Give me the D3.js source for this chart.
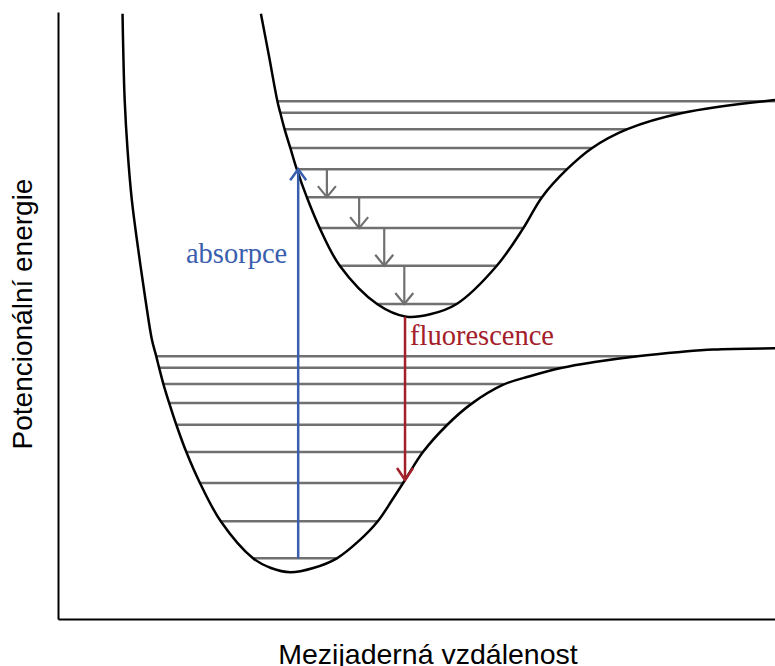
<!DOCTYPE html>
<html>
<head>
<meta charset="utf-8">
<script src="https://cdn.jsdelivr.net/npm/d3@7"></script>
<style>
  html, body { margin: 0; padding: 0; background: #fff; }
  svg { display: block; }
</style>
</head>
<body>
<svg id="chart" width="775" height="666"></svg>
<script>
// Potential energy curves: [internuclear distance r, energy E] in arbitrary units
const groundCurve = [
  [0.90, 9.97], [0.91, 9.37], [0.93, 8.55], [0.97, 7.73], [1.03, 6.90],
  [1.12, 6.08], [1.22, 5.26], [1.31, 4.60], [1.37, 4.33], [1.41, 4.14],
  [1.47, 3.87], [1.55, 3.56], [1.65, 3.20], [1.79, 2.75], [1.98, 2.24],
  [2.27, 1.61], [2.72, 1.00], [2.97, 0.84], [3.24, 0.77], [3.56, 0.84],
  [3.89, 1.00], [4.20, 1.29], [4.46, 1.61], [4.66, 1.96], [4.84, 2.29],
  [5.09, 2.75], [5.43, 3.20], [5.76, 3.54], [6.21, 3.86], [6.58, 4.00],
  [7.03, 4.14], [7.46, 4.23], [8.08, 4.33], [8.68, 4.40], [9.14, 4.44],
  [10.0, 4.46]
];
const excitedCurve = [
  [2.83, 9.97], [2.94, 9.29], [3.06, 8.53], [3.10, 8.34], [3.16, 8.07],
  [3.24, 7.76], [3.33, 7.41], [3.47, 6.95], [3.65, 6.44], [3.93, 5.82],
  [4.45, 5.19], [4.86, 4.98], [5.19, 5.02], [5.56, 5.19], [6.12, 5.82],
  [6.49, 6.44], [6.75, 6.95], [7.10, 7.41], [7.45, 7.76], [7.94, 8.07],
  [8.72, 8.34], [10.0, 8.55]
];

// Vibrational levels: energy and the r-range where each meets its curve
const groundLevelE     = [4.33, 4.14, 3.87, 3.56, 3.20, 2.75, 2.24, 1.61, 1.00];
const groundLevelLeft  = [1.37, 1.41, 1.47, 1.55, 1.65, 1.79, 1.98, 2.27, 2.72];
const groundLevelRight = [8.08, 7.03, 6.21, 5.75, 5.43, 5.09, 4.81, 4.46, 3.89];

const excitedLevelE     = [8.53, 8.34, 8.07, 7.76, 7.41, 6.95, 6.44, 5.82, 5.19];
const excitedLevelLeft  = [3.06, 3.10, 3.16, 3.24, 3.33, 3.47, 3.65, 3.93, 4.45];
const excitedLevelRight = [10.0, 8.72, 7.94, 7.45, 7.10, 6.75, 6.49, 6.12, 5.56];

// Transitions: [r, E from, E to]
const absorption   = [3.35, 1.00, 7.41];
const fluorescence = [4.84, 4.98, 2.29];
const relaxation = [
  [3.75, 7.41, 6.95],
  [4.20, 6.95, 6.44],
  [4.55, 6.44, 5.82],
  [4.83, 5.82, 5.19]
];

const labels = {
  x: "Mezijaderná vzdálenost",
  y: "Potencionální energie",
  absorption: "absorpce",
  fluorescence: "fluorescence"
};

const colors = {
  curve: "#000000",
  level: "#707070",
  absorption: "#3a5eae",
  fluorescence: "#a3202a"
};

const svg = d3.select("#chart");
const W = 775, H = 666;
const margin = { left: 58, right: 0, top: 12, bottom: 47 };

const x = d3.scaleLinear().domain([0, 10]).range([margin.left, W - margin.right]);
const y = d3.scaleLinear().domain([0, 10]).range([H - margin.bottom, margin.top]);

// Axes without ticks
svg.append("g")
  .attr("transform", `translate(${margin.left},0)`)
  .call(d3.axisLeft(y).tickValues([]).tickSizeOuter(0))
  .call(g => g.select(".domain").attr("stroke", "#000").attr("stroke-width", 2));
svg.append("g")
  .attr("transform", `translate(0,${H - margin.bottom})`)
  .call(d3.axisBottom(x).tickValues([]).tickSizeOuter(0))
  .call(g => g.select(".domain").attr("stroke", "#000").attr("stroke-width", 2));

// Vibrational levels
function drawLevels(E, L, R) {
  svg.append("g").selectAll("line")
    .data(E.map((e, i) => ({ e, l: L[i], r: R[i] })))
    .join("line")
    .attr("x1", d => x(d.l)).attr("x2", d => x(d.r))
    .attr("y1", d => y(d.e)).attr("y2", d => y(d.e))
    .attr("stroke", colors.level)
    .attr("stroke-width", 2.5);
}
drawLevels(groundLevelE, groundLevelLeft, groundLevelRight);
drawLevels(excitedLevelE, excitedLevelLeft, excitedLevelRight);

// Potential curves
const line = d3.line().x(d => x(d[0])).y(d => y(d[1])).curve(d3.curveCatmullRom.alpha(0.5));
[groundCurve, excitedCurve].forEach(c => {
  svg.append("path")
    .attr("d", line(c))
    .attr("fill", "none")
    .attr("stroke", colors.curve)
    .attr("stroke-width", 2.5);
});

// Vertical arrows with open chevron heads
function arrow(t, color, width, head) {
  const [r, e0, e1] = t;
  const px = x(r), y0 = y(e0), y1 = y(e1);
  const dir = y1 < y0 ? 1 : -1; // head points up (dir=1) or down (dir=-1)
  const g = svg.append("g")
    .attr("stroke", color).attr("stroke-width", width)
    .attr("fill", "none").attr("stroke-linecap", "butt");
  g.append("line").attr("x1", px).attr("x2", px).attr("y1", y0).attr("y2", y1);
  g.append("path")
    .attr("d", `M${px - head[0]},${y1 + dir * head[1]}L${px},${y1}L${px + head[0]},${y1 + dir * head[1]}`);
}
relaxation.forEach(t => arrow(t, colors.level, 2.2, [9, 11]));
arrow(absorption, colors.absorption, 2.5, [8, 11]);
arrow(fluorescence, colors.fluorescence, 2.5, [8, 12]);

// Transition labels
const serif = "'Liberation Serif', 'Times New Roman', serif";
svg.append("text")
  .attr("x", x(absorption[0]) - 11)
  .attr("y", y(5.82) - 3)
  .attr("text-anchor", "end")
  .attr("font-family", serif)
  .attr("font-size", 28.5)
  .attr("fill", colors.absorption)
  .text(labels.absorption);
svg.append("text")
  .attr("x", x(fluorescence[0]) + 5)
  .attr("y", y(4.52))
  .attr("font-family", serif)
  .attr("font-size", 28.5)
  .attr("fill", colors.fluorescence)
  .text(labels.fluorescence);

// Axis titles
const sans = "'Liberation Sans', Arial, sans-serif";
svg.append("text")
  .attr("x", 428)
  .attr("y", 664)
  .attr("text-anchor", "middle")
  .attr("font-family", sans)
  .attr("font-size", 28.5)
  .attr("fill", "#000")
  .text(labels.x);
svg.append("text")
  .attr("transform", `translate(32,314) rotate(-90)`)
  .attr("text-anchor", "middle")
  .attr("font-family", sans)
  .attr("font-size", 28)
  .attr("fill", "#000")
  .text(labels.y);
</script>
</body>
</html>
